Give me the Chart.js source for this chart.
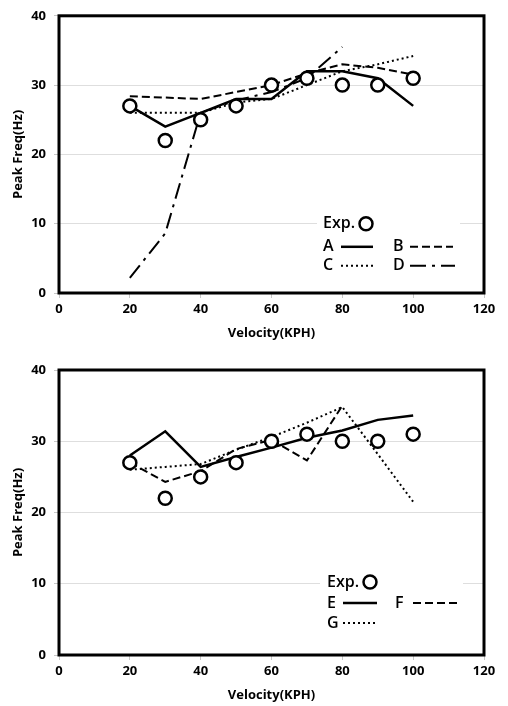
<!DOCTYPE html>
<html lang="en">
<head>
<meta charset="UTF-8">
<title>Peak Freq vs Velocity</title>
<script src="https://cdn.jsdelivr.net/npm/chart.js"></script>
<style>
  body { margin: 0; background: #fff; }
  .box { position: absolute; left: 0; width: 508px; height: 353px; }
  #top { top: 0; }
  #bottom { top: 353px; }
</style>
</head>
<body>
<div class="box" id="top"><canvas id="chartTop"></canvas></div>
<div class="box" id="bottom"><canvas id="chartBottom"></canvas></div>
<script>
const velocity = [20, 30, 40, 50, 60, 70, 80, 90, 100];
const velocityTicks = [0, 20, 40, 60, 80, 100, 120];
const freqTicks = [0, 10, 20, 30, 40];
const expFreq = [27, 22, 25, 27, 30, 31, 30, 30, 31];
// upper chart
const freqA = [27, 24, 26, 28, 28, 32, 32, 31, 27];
const freqB = [28.4, 28.2, 28, 29, 30, 31.7, 33, 32.5, 31.5];
const freqC = [26, 26, 26, 27.5, 28, 30, 32, 33, 34.2];
const freqD = [2.2, 8.6, 26, 27.8, 29, 31, 35.5];
// lower chart
const freqE = [28, 31.4, 26.4, 27.8, 29.1, 30.5, 31.5, 33, 33.6];
const freqF = [27, 24.3, 25.8, 28.9, 30.2, 27.3, 35];
const freqG = [26, 26.4, 26.8, 28.8, 30.6, 32.6, 34.8, 28.2, 21.5];

const FONT = '"Open Sans", sans-serif';

function pts(ys) {
  return ys.map((y, i) => ({ x: velocity[i], y: y }));
}

function lineSet(label, ys, dash, width) {
  return {
    label: label, data: pts(ys), borderColor: '#000', borderWidth: width,
    borderDash: dash, pointRadius: 0, fill: false, tension: 0
  };
}

function expSet() {
  return {
    label: 'Exp.', data: pts(expFreq), showLine: false, pointStyle: 'circle',
    pointRadius: 6.5, pointBorderWidth: 2.5, pointBackgroundColor: '#fff',
    pointBorderColor: '#000', borderColor: '#000', backgroundColor: '#fff'
  };
}

// legend drawn inside the plot, label first then the line sample
const insideLegend = {
  id: 'insideLegend',
  beforeDatasetsDraw(chart, args, opts) {
    if (!opts.items) return;
    const ctx = chart.ctx, a = chart.chartArea;
    ctx.save();
    ctx.fillStyle = '#fff';
    ctx.fillRect(a.left + opts.box[0], a.top + opts.box[1], opts.box[2], opts.box[3]);
    ctx.font = '600 16px ' + FONT;
    ctx.textBaseline = 'middle';
    ctx.strokeStyle = '#000';
    opts.items.forEach(it => {
      const ds = chart.data.datasets[it.ds];
      const y = a.top + it.y;
      ctx.fillStyle = '#000';
      ctx.fillText(ds.label, a.left + it.x, y);
      if (ds.showLine === false) {
        ctx.beginPath();
        ctx.lineWidth = ds.pointBorderWidth;
        ctx.arc(a.left + it.x1, y, ds.pointRadius, 0, Math.PI * 2);
        ctx.fillStyle = '#fff';
        ctx.fill();
        ctx.stroke();
      } else {
        ctx.beginPath();
        ctx.setLineDash(ds.borderDash || []);
        ctx.lineWidth = ds.borderWidth;
        ctx.moveTo(a.left + it.x1, y);
        ctx.lineTo(a.left + it.x2, y);
        ctx.stroke();
        ctx.setLineDash([]);
      }
    });
    ctx.restore();
  }
};

// thick black box round the plot area
const frame = {
  id: 'frame',
  afterDatasetsDraw(chart) {
    const ctx = chart.ctx, a = chart.chartArea;
    ctx.save();
    ctx.lineWidth = 3;
    ctx.strokeStyle = '#000';
    ctx.strokeRect(a.left, a.top, a.right - a.left, a.bottom - a.top);
    ctx.restore();
  }
};

const tickFont = { family: FONT, size: 13, weight: 'bold' };

function makeOptions(padTop, padBottom, legendOpts) {
  return {
    responsive: true,
    maintainAspectRatio: false,
    animation: false,
    layout: { padding: { top: padTop, right: 24, bottom: padBottom, left: 0 } },
    plugins: {
      legend: { display: false },
      tooltip: { enabled: false },
      insideLegend: legendOpts
    },
    scales: {
      x: {
        type: 'linear', min: 0, max: 120,
        afterBuildTicks: s => { s.ticks = velocityTicks.map(v => ({ value: v })); },
        afterFit: s => { s.height = 51; },
        grid: { drawOnChartArea: false, tickLength: 5, tickColor: '#c8c8c8' },
        border: { display: false },
        ticks: { color: '#000', font: tickFont, padding: 3, maxRotation: 0 },
        title: { display: true, text: 'Velocity(KPH)', color: '#000', font: tickFont, padding: { top: 2, bottom: 3 } }
      },
      y: {
        type: 'linear', min: 0, max: 40,
        afterBuildTicks: s => { s.ticks = freqTicks.map(v => ({ value: v })); },
        afterFit: s => { s.width = 59; },
        grid: { color: '#dedede', tickLength: 5, tickColor: '#c8c8c8' },
        border: { display: false },
        ticks: { color: '#000', font: tickFont, padding: 8 },
        title: { display: true, text: 'Peak Freq(Hz)', color: '#000', font: tickFont, padding: { top: 10, bottom: 0 } }
      }
    }
  };
}

new Chart(document.getElementById('chartTop'), {
  type: 'line',
  data: {
    datasets: [
      expSet(),
      lineSet('A', freqA, [], 2.5),
      lineSet('B', freqB, [8, 4], 2),
      lineSet('C', freqC, [2, 3], 2),
      lineSet('D', freqD, [16, 6, 3, 6], 2)
    ]
  },
  options: makeOptions(9, 9, {
    box: [258, 191, 143, 70],
    items: [
      { ds: 0, x: 264, y: 208, x1: 307 },
      { ds: 1, x: 264, y: 231, x1: 282, x2: 314 },
      { ds: 2, x: 334, y: 231, x1: 351, x2: 394 },
      { ds: 3, x: 264, y: 250, x1: 282, x2: 315 },
      { ds: 4, x: 334, y: 250, x1: 351, x2: 396 }
    ]
  }),
  plugins: [insideLegend, frame]
});

new Chart(document.getElementById('chartBottom'), {
  type: 'line',
  data: {
    datasets: [
      expSet(),
      lineSet('E', freqE, [], 2.5),
      lineSet('F', freqF, [8, 4], 2),
      lineSet('G', freqG, [2, 3], 2)
    ]
  },
  options: makeOptions(17, 0, {
    box: [261, 195, 143, 70],
    items: [
      { ds: 0, x: 268, y: 212, x1: 311 },
      { ds: 1, x: 268, y: 233, x1: 284, x2: 318 },
      { ds: 2, x: 336, y: 233, x1: 354, x2: 398 },
      { ds: 3, x: 268, y: 253, x1: 284, x2: 318 }
    ]
  }),
  plugins: [insideLegend, frame]
});
</script>
</body>
</html>
